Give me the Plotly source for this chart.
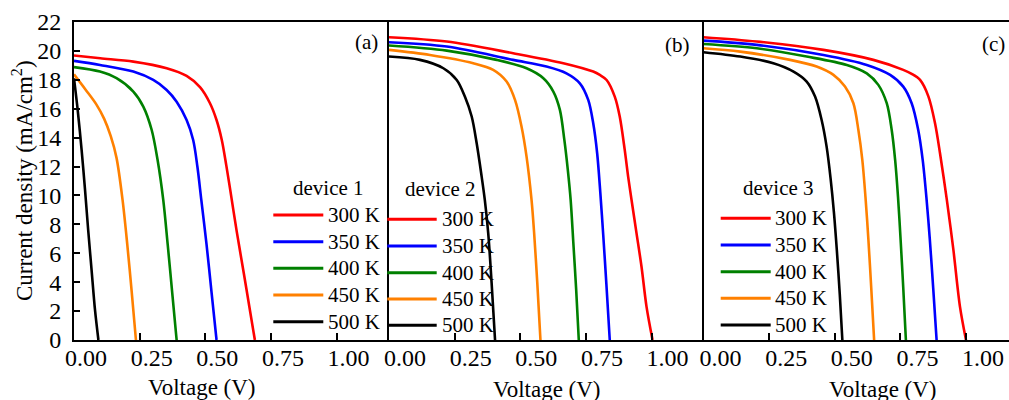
import plotly.graph_objects as go

# ---------------- data ----------------
TEMPS = ["300 K", "350 K", "400 K", "450 K", "500 K"]
COLORS = ["#FF0000", "#0000FF", "#008000", "#FF8000", "#000000"]
DEVICES = ["device 1", "device 2", "device 3"]
PANEL_TAGS = ["(a)", "(b)", "(c)"]
X_TICKS = [0, 0.25, 0.5, 0.75, 1.0]
X_TICK_TEXT = ["0.00", "0.25", "0.50", "0.75", "1.00"]
Y_TICKS = [0, 2, 4, 6, 8, 10, 12, 14, 16, 18, 20, 22]

# device 1
V_D1_300 = [0, 0.100, 0.226, 0.353, 0.429, 0.480, 0.518, 0.543, 0.563, 0.580, 0.595, 0.620, 0.647, 0.668, 0.689]
J_D1_300 = [19.68, 19.49, 19.26, 18.80, 18.27, 17.49, 16.38, 15.22, 13.84, 12.10, 10.40, 7.50, 4.60, 2.30, 0]
V_D1_350 = [0, 0.099, 0.226, 0.302, 0.353, 0.391, 0.429, 0.454, 0.470, 0.485, 0.505, 0.524, 0.543]
J_D1_350 = [19.31, 19.03, 18.57, 17.99, 17.30, 16.49, 15.22, 13.84, 12.00, 9.69, 6.60, 3.30, 0]
V_D1_400 = [0, 0.099, 0.162, 0.226, 0.264, 0.296, 0.318, 0.340, 0.357, 0.374, 0.391]
J_D1_400 = [18.88, 18.57, 18.11, 17.19, 16.15, 14.53, 12.50, 9.69, 6.60, 3.30, 0]
V_D1_450 = [0, 0.045, 0.085, 0.115, 0.140, 0.162, 0.185, 0.203, 0.220, 0.236]
J_D1_450 = [18.38, 17.30, 16.30, 15.30, 14.10, 12.60, 9.69, 6.60, 3.30, 0]
V_D1_500 = [0, 0.014, 0.029, 0.042, 0.054, 0.067, 0.080, 0.093]
J_D1_500 = [18.10, 15.92, 13.15, 10.38, 7.61, 4.84, 2.08, 0]

# device 2
V_D2_300 = [0, 0.220, 0.473, 0.664, 0.778, 0.803, 0.829, 0.860, 0.879, 0.898, 0.911, 0.924, 0.943, 0.962, 0.981, 1.004]
J_D2_300 = [20.95, 20.65, 19.84, 19.15, 18.57, 18.34, 17.99, 16.84, 15.46, 13.15, 11.30, 9.69, 7.38, 5.07, 2.31, 0]
V_D2_350 = [0, 0.220, 0.473, 0.600, 0.676, 0.727, 0.759, 0.778, 0.793, 0.805, 0.816, 0.828, 0.841]
J_D2_350 = [20.60, 20.30, 19.38, 18.92, 18.45, 17.76, 16.61, 14.99, 12.92, 10.20, 7.30, 3.90, 0]
V_D2_400 = [0, 0.220, 0.410, 0.524, 0.588, 0.626, 0.651, 0.668, 0.681, 0.692, 0.702, 0.713, 0.723]
J_D2_400 = [20.37, 20.02, 19.38, 18.80, 18.11, 17.19, 15.92, 13.84, 11.80, 9.69, 6.80, 3.50, 0]
V_D2_450 = [0, 0.156, 0.321, 0.397, 0.448, 0.480, 0.505, 0.524, 0.543, 0.553, 0.565, 0.577]
J_D2_450 = [20.07, 19.72, 19.15, 18.69, 17.88, 16.61, 14.76, 12.69, 9.69, 7.38, 3.92, 0]
V_D2_500 = [0, 0.118, 0.207, 0.258, 0.289, 0.315, 0.334, 0.353, 0.365, 0.378, 0.391, 0.404]
J_D2_500 = [19.61, 19.38, 18.80, 17.99, 16.84, 15.46, 13.61, 11.30, 9.69, 7.38, 3.92, 0]

# device 3
V_D3_300 = [0, 0.203, 0.457, 0.647, 0.761, 0.793, 0.825, 0.857, 0.882, 0.901, 0.927, 0.952, 0.977, 1.000]
J_D3_300 = [20.95, 20.65, 20.07, 19.38, 18.69, 18.41, 17.99, 16.84, 14.99, 12.92, 9.69, 6.23, 2.31, 0]
V_D3_350 = [0, 0.203, 0.457, 0.622, 0.711, 0.761, 0.793, 0.818, 0.835, 0.849, 0.862, 0.875, 0.888]
J_D3_350 = [20.71, 20.42, 19.72, 19.03, 18.34, 17.53, 16.38, 14.53, 12.46, 9.90, 7.00, 3.60, 0]
V_D3_400 = [0, 0.203, 0.393, 0.546, 0.622, 0.666, 0.698, 0.717, 0.730, 0.741, 0.751, 0.761, 0.771]
J_D3_400 = [20.48, 20.18, 19.61, 19.03, 18.45, 17.65, 16.38, 14.53, 12.46, 9.90, 6.90, 3.60, 0]
V_D3_450 = [0, 0.140, 0.330, 0.431, 0.495, 0.539, 0.571, 0.590, 0.605, 0.617, 0.628, 0.639, 0.650]
J_D3_450 = [20.18, 19.95, 19.38, 18.92, 18.34, 17.53, 16.38, 14.53, 12.46, 9.90, 7.00, 3.60, 0]
V_D3_500 = [0, 0.140, 0.266, 0.343, 0.393, 0.425, 0.450, 0.469, 0.484, 0.497, 0.508, 0.519, 0.529]
J_D3_500 = [19.91, 19.61, 19.15, 18.57, 17.88, 16.84, 15.22, 13.38, 11.20, 8.80, 6.20, 3.20, 0]

SERIES = [
    [(V_D1_300, J_D1_300), (V_D1_350, J_D1_350), (V_D1_400, J_D1_400), (V_D1_450, J_D1_450), (V_D1_500, J_D1_500)],
    [(V_D2_300, J_D2_300), (V_D2_350, J_D2_350), (V_D2_400, J_D2_400), (V_D2_450, J_D2_450), (V_D2_500, J_D2_500)],
    [(V_D3_300, J_D3_300), (V_D3_350, J_D3_350), (V_D3_400, J_D3_400), (V_D3_450, J_D3_450), (V_D3_500, J_D3_500)],
]

# ---------------- layout helpers ----------------
W, H = 1009, 400
ML, MR, MT, MB = 74, 0, 22, 60
PW = W - ML - MR
PH = H - MT - MB


def fx(px):
    return (px - ML) / PW


def fy(py):
    return (MT + PH - py) / PH


FONT = "Times New Roman, Liberation Serif, DejaVu Serif, serif"
PX_PER_V = 262.5
panel_left = [74, 389, 703.5]
panel_right = [389, 704, 1009]
label_shift = [12, 16, 17]

fig = go.Figure()

for p in range(3):
    xa = "x" if p == 0 else f"x{p+1}"
    ya = "y" if p == 0 else f"y{p+1}"
    for (v, j), name, col in zip(SERIES[p], TEMPS, COLORS):
        fig.add_trace(go.Scatter(
            x=v, y=j, mode="lines", name=name, showlegend=False,
            line=dict(color=col, width=2.6, shape="spline", smoothing=0.9),
            xaxis=xa, yaxis=ya, hoverinfo="skip"))

axis_common = dict(showgrid=False, zeroline=False, linecolor="black",
                   linewidth=2, automargin=False)

layout = dict(
    width=W, height=H,
    margin=dict(l=ML, r=MR, t=MT, b=MB, pad=0),
    paper_bgcolor="white", plot_bgcolor="white",
    font=dict(family=FONT, color="black"),
    showlegend=False,
)

for p in range(3):
    key = "" if p == 0 else str(p + 1)
    x_dom = [fx(panel_left[p]), fx(panel_right[p])]
    x_max = (panel_right[p] - panel_left[p]) / PX_PER_V
    layout["xaxis" + key] = dict(
        axis_common, showline=True, domain=x_dom, range=[0, x_max], anchor="y" + key,
        tickvals=X_TICKS, ticktext=X_TICK_TEXT, ticks="inside", ticklen=7,
        tickwidth=2, tickcolor="black", mirror=True,
        tickfont=dict(family=FONT, size=24, color="black"),
        ticklabelshift=label_shift[p], ticklabelstandoff=-5)
    if p == 0:
        layout["yaxis"] = dict(
            axis_common, showline=True, domain=[0, 1], range=[0, 22], anchor="x",
            tickvals=Y_TICKS, ticks="inside", ticklen=6, tickwidth=2,
            tickcolor="black", mirror=False,
            tickfont=dict(family=FONT, size=24, color="black"),
            ticklabelstandoff=6)
    else:
        layout["yaxis" + key] = dict(
            axis_common, showline=True, domain=[0, 1], range=[0, 22], anchor="x" + key,
            showticklabels=False, ticks="", mirror=False)

fig.update_layout(**layout)

# legends drawn per panel
leg_rows = [
    [215, 241.7, 268.3, 295, 321.7],
    [219.3, 246, 272.7, 299, 325.3],
    [218.3, 245, 271.7, 298.3, 325],
]
leg_line_x = [(273.3, 323.3), (387.3, 436.7), (720.7, 770.7)]
leg_text_x = [327, 441, 774]
device_pos = [(328, 188), (440, 189.5), (778, 188)]
tag_pos = [(366.7, 42), (677.5, 45), (993.3, 44)]
vlabel_pos = [(202, 387), (547, 389), (883, 389)]

shapes = []
annotations = []
for p in range(3):
    for r, (name, col) in enumerate(zip(TEMPS, COLORS)):
        y = fy(leg_rows[p][r])
        shapes.append(dict(type="line", xref="paper", yref="paper",
                           x0=fx(leg_line_x[p][0]), x1=fx(leg_line_x[p][1]),
                           y0=y, y1=y, line=dict(color=col, width=3)))
        annotations.append(dict(xref="paper", yref="paper", x=fx(leg_text_x[p]), y=y,
                                text=name, showarrow=False, xanchor="left", yanchor="middle",
                                borderpad=0, font=dict(family=FONT, size=21, color="black")))
    annotations.append(dict(xref="paper", yref="paper", x=fx(device_pos[p][0]), y=fy(device_pos[p][1]),
                            text=DEVICES[p], showarrow=False, xanchor="center", yanchor="middle",
                            font=dict(family=FONT, size=21, color="black")))
    annotations.append(dict(xref="paper", yref="paper", x=fx(tag_pos[p][0]), y=fy(tag_pos[p][1]),
                            text=PANEL_TAGS[p], showarrow=False, xanchor="center", yanchor="middle",
                            font=dict(family=FONT, size=21, color="black")))
    annotations.append(dict(xref="paper", yref="paper", x=fx(vlabel_pos[p][0]), y=fy(vlabel_pos[p][1]),
                            text="Voltage (V)", showarrow=False, xanchor="center", yanchor="middle",
                            font=dict(family=FONT, size=23, color="black")))

annotations.append(dict(xref="paper", yref="paper", x=fx(22), y=fy(181),
                        text="Current density (mA/cm<sup>2</sup>)", showarrow=False,
                        textangle=-90, xanchor="center", yanchor="middle",
                        font=dict(family=FONT, size=23, color="black")))

fig.update_layout(shapes=shapes, annotations=annotations)

fig.write_html("out.html")
